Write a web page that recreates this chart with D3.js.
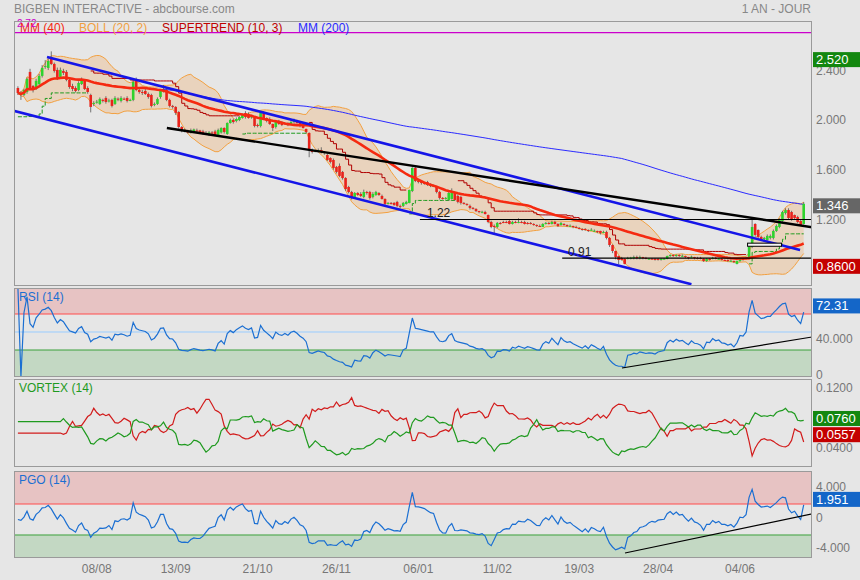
<!DOCTYPE html>
<html><head><meta charset="utf-8">
<script src="https://cdn.jsdelivr.net/npm/d3@7"></script>
<style>
body{margin:0;background:#e6e6e6;}
svg{display:block;font-family:Arial,"Liberation Sans",sans-serif;}
</style>
</head><body>
<svg id="chart" width="860" height="580"></svg>
<script>
// ---------- DATA ----------
const opens=[2.276,2.236,2.220,2.244,2.405,2.292,2.268,2.308,2.373,2.445,
2.437,2.520,2.469,2.421,2.365,2.413,2.405,2.341,2.292,2.276,
2.260,2.308,2.333,2.276,2.220,2.148,2.160,2.148,2.180,2.196,
2.170,2.180,2.148,2.190,2.172,2.190,2.196,2.176,2.180,2.341,
2.260,2.244,2.252,2.228,2.220,2.144,2.148,2.204,2.252,2.260,
2.180,2.132,2.124,2.083,1.963,1.931,1.927,1.919,1.927,1.935,
1.935,1.927,1.911,1.899,1.919,1.927,1.899,1.919,1.955,1.907,
1.995,2.019,2.011,2.019,2.035,2.075,2.067,2.043,2.043,1.979,
1.971,2.075,2.035,2.027,1.987,1.963,2.011,2.003,1.987,1.995,
1.987,2.003,2.011,1.995,1.979,1.947,1.915,1.778,1.770,1.770,
1.778,1.762,1.738,1.714,1.698,1.642,1.650,1.602,1.553,1.481,
1.441,1.401,1.433,1.425,1.401,1.441,1.441,1.401,1.417,1.433,
1.409,1.385,1.353,1.353,1.353,1.361,1.329,1.329,1.345,1.353,
1.449,1.634,1.529,1.521,1.513,1.521,1.497,1.489,1.481,1.441,
1.393,1.385,1.377,1.385,1.433,1.409,1.401,1.353,1.345,1.329,
1.313,1.305,1.288,1.280,1.280,1.256,1.200,1.168,1.160,1.192,
1.200,1.200,1.208,1.184,1.200,1.192,1.200,1.200,1.192,1.192,
1.184,1.176,1.168,1.160,1.184,1.192,1.184,1.200,1.184,1.176,
1.184,1.176,1.168,1.168,1.160,1.152,1.144,1.144,1.136,1.136,
1.128,1.128,1.128,1.112,1.120,1.072,1.015,0.967,0.927,0.911,
0.903,0.903,0.911,0.911,0.919,0.911,0.919,0.911,0.903,0.905,
0.903,0.903,0.895,0.903,0.903,0.927,0.935,0.927,0.935,0.927,
0.927,0.919,0.919,0.919,0.911,0.911,0.903,0.887,0.903,0.903,
0.911,0.903,0.903,0.895,0.895,0.887,0.887,0.863,0.887,0.903,
0.903,0.911,1.000,1.184,1.136,1.080,1.063,1.055,1.072,1.072,
1.128,1.160,1.208,1.272,1.296,1.280,1.256,1.240,1.208,1.184];
const highs=[2.29,2.25,2.27,2.36,2.43,2.30,2.35,2.39,2.46,2.50,
2.51,2.57,2.48,2.44,2.44,2.43,2.42,2.35,2.31,2.29,
2.33,2.36,2.34,2.29,2.23,2.17,2.18,2.20,2.19,2.21,
2.19,2.19,2.21,2.20,2.21,2.20,2.21,2.19,2.34,2.36,
2.27,2.26,2.27,2.24,2.23,2.16,2.20,2.26,2.30,2.27,
2.19,2.14,2.13,2.09,1.97,1.95,1.94,1.95,1.95,1.95,
1.94,1.94,1.93,1.93,1.93,1.94,1.95,1.96,1.96,2.00,
2.03,2.03,2.04,2.05,2.07,2.09,2.08,2.06,2.05,1.99,
2.08,2.09,2.04,2.04,1.99,2.02,2.02,2.01,2.00,2.00,
2.01,2.03,2.02,2.00,1.99,1.95,1.92,1.79,1.78,1.79,
1.80,1.77,1.75,1.72,1.71,1.65,1.67,1.61,1.56,1.49,
1.45,1.44,1.44,1.44,1.46,1.45,1.45,1.44,1.45,1.44,
1.42,1.39,1.36,1.36,1.36,1.37,1.34,1.36,1.37,1.46,
1.64,1.65,1.54,1.53,1.52,1.53,1.51,1.50,1.49,1.45,
1.40,1.40,1.44,1.47,1.44,1.42,1.41,1.36,1.35,1.34,
1.32,1.31,1.29,1.29,1.29,1.26,1.21,1.18,1.20,1.20,
1.21,1.21,1.22,1.21,1.21,1.23,1.21,1.21,1.20,1.20,
1.19,1.18,1.18,1.19,1.20,1.20,1.21,1.21,1.19,1.20,
1.19,1.18,1.18,1.17,1.17,1.16,1.15,1.15,1.14,1.15,
1.14,1.13,1.13,1.13,1.13,1.08,1.02,0.97,0.93,0.92,
0.91,0.92,0.92,0.93,0.93,0.93,0.92,0.92,0.91,0.91,
0.91,0.91,0.91,0.91,0.93,0.94,0.94,0.94,0.94,0.94,
0.93,0.92,0.93,0.92,0.92,0.92,0.91,0.91,0.91,0.92,
0.92,0.91,0.91,0.90,0.90,0.90,0.89,0.89,0.91,0.91,
0.92,1.01,1.23,1.19,1.14,1.09,1.08,1.10,1.10,1.14,
1.18,1.23,1.29,1.31,1.31,1.29,1.26,1.25,1.22,1.36];
const lows=[2.22,2.18,2.21,2.23,2.26,2.24,2.26,2.30,2.36,2.43,
2.42,2.46,2.40,2.34,2.35,2.38,2.33,2.27,2.25,2.24,
2.25,2.30,2.26,2.23,2.08,2.13,2.15,2.14,2.16,2.15,
2.16,2.12,2.14,2.17,2.16,2.18,2.16,2.17,2.17,2.25,
2.23,2.22,2.22,2.19,2.12,2.13,2.14,2.19,2.24,2.17,
2.12,2.11,2.06,1.95,1.92,1.92,1.91,1.91,1.92,1.92,
1.91,1.90,1.90,1.89,1.90,1.89,1.89,1.91,1.91,1.90,
1.99,1.99,2.00,2.01,2.03,2.03,2.03,2.03,1.96,1.96,
1.96,2.03,2.00,1.98,1.93,1.95,1.98,1.97,1.98,1.97,
1.98,1.99,1.99,1.96,1.95,1.91,1.72,1.75,1.76,1.76,
1.75,1.74,1.69,1.67,1.62,1.59,1.56,1.54,1.45,1.43,
1.38,1.39,1.41,1.40,1.39,1.42,1.38,1.39,1.41,1.41,
1.38,1.33,1.34,1.34,1.33,1.32,1.31,1.32,1.34,1.35,
1.44,1.52,1.51,1.50,1.50,1.49,1.48,1.48,1.43,1.38,
1.38,1.38,1.37,1.38,1.37,1.35,1.34,1.34,1.33,1.30,
1.30,1.28,1.27,1.27,1.26,1.19,1.15,1.11,1.15,1.18,
1.19,1.19,1.18,1.18,1.19,1.19,1.19,1.18,1.18,1.18,
1.17,1.16,1.16,1.16,1.18,1.18,1.18,1.18,1.16,1.17,
1.17,1.16,1.16,1.15,1.15,1.14,1.13,1.13,1.12,1.13,
1.12,1.11,1.10,1.11,1.06,1.00,0.95,0.90,0.86,0.89,
0.86,0.90,0.90,0.90,0.90,0.90,0.90,0.90,0.90,0.90,
0.89,0.89,0.89,0.90,0.90,0.92,0.92,0.92,0.92,0.92,
0.91,0.90,0.91,0.90,0.90,0.90,0.88,0.88,0.89,0.90,
0.90,0.90,0.89,0.89,0.88,0.88,0.87,0.86,0.88,0.89,
0.90,0.90,0.99,1.08,1.07,1.05,1.05,1.05,1.06,1.06,
1.12,1.15,1.20,1.26,1.22,1.21,1.22,1.19,1.17,1.18];
const closes=[2.236,2.220,2.260,2.349,2.276,2.260,2.333,2.373,2.437,2.453,
2.493,2.469,2.413,2.357,2.421,2.397,2.341,2.284,2.268,2.252,
2.316,2.341,2.268,2.244,2.124,2.156,2.166,2.188,2.176,2.164,
2.176,2.132,2.196,2.186,2.196,2.188,2.172,2.180,2.324,2.260,
2.244,2.236,2.228,2.204,2.132,2.148,2.188,2.252,2.256,2.180,
2.132,2.128,2.076,1.963,1.939,1.935,1.923,1.935,1.943,1.931,
1.919,1.911,1.915,1.919,1.911,1.899,1.939,1.955,1.923,1.995,
2.019,2.003,2.027,2.043,2.059,2.043,2.035,2.047,1.971,1.975,
2.075,2.035,2.011,1.987,1.955,2.011,1.987,1.979,1.995,1.979,
2.003,2.011,1.995,1.971,1.955,1.923,1.778,1.762,1.770,1.778,
1.762,1.754,1.698,1.682,1.634,1.602,1.570,1.553,1.465,1.441,
1.393,1.433,1.417,1.409,1.441,1.433,1.393,1.425,1.441,1.417,
1.385,1.345,1.353,1.345,1.337,1.329,1.321,1.353,1.361,1.457,
1.634,1.529,1.521,1.513,1.505,1.497,1.489,1.491,1.441,1.393,
1.385,1.393,1.433,1.449,1.377,1.361,1.353,1.345,1.337,1.313,
1.305,1.288,1.280,1.282,1.264,1.200,1.160,1.166,1.192,1.190,
1.198,1.196,1.184,1.200,1.192,1.200,1.192,1.184,1.190,1.184,
1.176,1.168,1.166,1.184,1.192,1.184,1.200,1.184,1.168,1.192,
1.176,1.168,1.170,1.160,1.152,1.144,1.136,1.142,1.128,1.138,
1.130,1.120,1.112,1.120,1.072,1.015,0.967,0.919,0.895,0.895,
0.863,0.911,0.913,0.919,0.911,0.919,0.911,0.903,0.905,0.903,
0.895,0.901,0.903,0.905,0.927,0.935,0.927,0.935,0.927,0.929,
0.919,0.911,0.921,0.911,0.909,0.903,0.887,0.903,0.901,0.911,
0.903,0.905,0.895,0.893,0.887,0.889,0.879,0.887,0.903,0.901,
0.911,1.000,1.160,1.096,1.080,1.063,1.072,1.088,1.088,1.128,
1.168,1.224,1.280,1.296,1.232,1.216,1.232,1.200,1.176,1.346];

const tickLabels=["08/08","13/09","21/10","26/11","06/01","11/02","19/03","28/04","04/06"];
const tickIndex=[26,52,79,105,132,158,185,211,238];
const priceTicks=[1.2,1.6,2.0,2.4];
const rsiTicks=[0,40];
const vortexTicks=[0.04,0.12];
const pgoTicks=[-4,0,4];
const rsiLevels=[30,50,70];
const pgoLevels=[-2,2];
const resistance=2.72;
// drawn annotations, in (candle index, value)
const channelUpper=[[9.6,2.525],[257.8,0.975]];
const channelLower=[[-2,2.097],[222,0.70]];
const blackTrend=[[49.1,1.955],[262,1.157]];
const levelLines=[{v:1.22,from:132.5,to:262,label:"1.22",at:134.8},{v:0.91,from:179.4,to:262,label:"0.91",at:181.3}];
const boxZone=[[240.5,1.03],[251.7,1.005]];
const rsiTrend=[[199.1,10],[262,44.6]];
const pgoTrend=[[200.1,-4.32],[262,0.74]];
const priceMarks=[{v:2.52,t:"2.520",c:"#13870f"},{v:1.346,t:"1.346",c:"#666666"},{v:0.86,t:"0.8600",c:"#c40000"}];
const rsiMark={v:72.31,t:"72.31"};
const vortexMarks=[{v:0.0760,t:"0.0760",c:"#13870f"},{v:0.0557,t:"0.0557",c:"#c40000"}];
const pgoMark={v:1.951,t:"1.951"};

// ---------- INDICATORS ----------
const N=closes.length;
const idx=d3.range(N);
const win=(arr,i,n)=>arr.slice(Math.max(0,i-n+1),i+1);
const mm40=idx.map(i=>d3.mean(win(closes,i,40)));
const mm200=idx.map(i=>d3.mean(win(closes,i,200)));
const boll=idx.map(i=>{const w=win(closes,i,20);const m=d3.mean(w);const sd=Math.sqrt(d3.mean(w,v=>(v-m)*(v-m)));return {i,up:m+2*sd,lo:m-2*sd};});
const tr=idx.map(i=>i===0?highs[0]-lows[0]:Math.max(highs[i]-lows[i],Math.abs(highs[i]-closes[i-1]),Math.abs(lows[i]-closes[i-1])));
// RSI 14 (Wilder)
const rsi=[];{let ag=0,al=0;idx.forEach(i=>{if(i===0){rsi.push(100);return;}const ch=closes[i]-closes[i-1];const g=Math.max(ch,0),l=Math.max(-ch,0);if(i<=14){ag=(ag*(i-1)+g)/i;al=(al*(i-1)+l)/i;}else{ag=(ag*13+g)/14;al=(al*13+l)/14;}rsi.push(al===0?100:100-100/(1+ag/al));});}
// Vortex 14 (needs a full 14-period window; held flat before it)
const VN=14;
const vip=[],vim=[];idx.forEach(i=>{if(i<VN){vip.push(null);vim.push(null);return;}let sp=0,sm=0,st=0;for(let k=i-VN+1;k<=i;k++){sp+=Math.abs(highs[k]-lows[k-1]);sm+=Math.abs(lows[k]-highs[k-1]);st+=tr[k];}vip.push(sp/st/VN);vim.push(sm/st/VN);});
for(let i=0;i<VN;i++){vip[i]=vip[VN];vim[i]=vim[VN];}
// PGO 14
const pgo=[];{let e=tr[0];idx.forEach(i=>{if(i>0)e=e+(2/15)*(tr[i]-e);pgo.push((closes[i]-d3.mean(win(closes,i,14)))/e);});}
// Supertrend 10,3
const st=[];{let atr=0,fu=0,fl=0,up=true;idx.forEach(i=>{atr=i<10?d3.mean(tr.slice(0,i+1)):(atr*9+tr[i])/10;const hl=(highs[i]+lows[i])/2;const bu=hl+3*atr,bl=hl-3*atr;if(i===0){fu=bu;fl=bl;}else{fu=(bu<fu||closes[i-1]>fu)?bu:fu;fl=(bl>fl||closes[i-1]<fl)?bl:fl;}if(up&&closes[i]<fl)up=false;else if(!up&&closes[i]>fu)up=true;st.push({i,v:up?fl:fu,up});});}

// ---------- SCALES ----------
const svg=d3.select("#chart");
const L=14.5,R=811.5;
const x=d3.scaleLinear().domain([0,N-1]).range([17.9,803.7]);
const P={top:21.5,bot:285.5}, RS={top:288.5,bot:376.5}, VX={top:379.5,bot:466.5}, PG={top:471.5,bot:557.5};
const yP=d3.scaleLinear().domain([0.694,2.814]).range([285,21]);
const yR=d3.scaleLinear().domain([0,100]).range([377,287]);
const yV=d3.scaleLinear().domain([0.0193,0.1353]).range([466,379]);
const yG=d3.scaleLinear().domain([-4.84,6.26]).range([557,471]);

const defs=svg.append("defs");
[["cpP",P],["cpR",RS],["cpV",VX],["cpG",PG]].forEach(([id,p])=>{defs.append("clipPath").attr("id",id).append("rect").attr("x",L).attr("y",p.top).attr("width",R-L).attr("height",p.bot-p.top);});

// header
svg.append("text").attr("x",14).attr("y",12.5).attr("font-size",12).attr("fill","#888").text("BIGBEN INTERACTIVE - abcbourse.com");
svg.append("text").attr("x",811).attr("y",12.5).attr("font-size",12).attr("fill","#888").attr("text-anchor","end").text("1 AN - JOUR");

function frame(p){svg.append("rect").attr("x",L).attr("y",p.top).attr("width",R-L).attr("height",p.bot-p.top).attr("fill","none").attr("stroke","#9a9a9a");}

// ---------- MAIN PANEL ----------
const gP=svg.append("g").attr("clip-path","url(#cpP)");
gP.append("path").datum(boll).attr("fill","rgba(242,168,96,0.30)").attr("d",d3.area().x(d=>x(d.i)).y0(d=>yP(d.lo)).y1(d=>yP(d.up)));
const lineOf=(ys,yS)=>d3.line().defined(i=>ys[i]!=null).x(i=>x(i)).y(i=>yS(ys[i]));
gP.append("path").datum(idx).attr("fill","none").attr("stroke","#f2a040").attr("stroke-width",1).attr("d",lineOf(boll.map(d=>d.up),yP));
gP.append("path").datum(idx).attr("fill","none").attr("stroke","#f2a040").attr("stroke-width",1).attr("d",lineOf(boll.map(d=>d.lo),yP));
let runs=[];st.forEach(d=>{const r=runs[runs.length-1];if(!r||r.up!==d.up)runs.push({up:d.up,pts:[d]});else r.pts.push(d);});
runs.forEach(r=>{gP.append("path").datum(r.pts).attr("fill","none").attr("stroke",r.up?"#1f9a1f":"#b00000").attr("stroke-width",1).attr("stroke-dasharray",r.up?"4,1.5":null).attr("d",d3.line().curve(d3.curveStepAfter).x(d=>x(d.i)).y(d=>yP(d.v)));});
gP.append("path").datum(idx).attr("fill","none").attr("stroke","#2a2aff").attr("stroke-width",1).attr("d",lineOf(mm200,yP));
gP.append("line").attr("x1",L).attr("x2",R).attr("y1",yP(resistance)).attr("y2",yP(resistance)).attr("stroke","#cc00cc").attr("stroke-width",1.2);
const cg=gP.append("g");
idx.forEach(i=>{const o=opens[i],c=closes[i];const xc=x(i);
 cg.append("line").attr("x1",xc).attr("x2",xc).attr("y1",yP(highs[i])).attr("y2",yP(lows[i])).attr("stroke","#555").attr("stroke-width",0.8);
 const t=yP(Math.max(o,c)),b=yP(Math.min(o,c));
 cg.append("rect").attr("x",xc-1.3).attr("width",2.6).attr("y",t).attr("height",Math.max(1,b-t)).attr("fill",c>=o?"#2ed22e":"#e8231c");});
gP.append("path").datum(idx).attr("fill","none").attr("stroke","#f52a10").attr("stroke-width",2.6).attr("d",lineOf(mm40,yP));
const seg=(g,pts,yS,col,w)=>g.append("line").attr("x1",x(pts[0][0])).attr("y1",yS(pts[0][1])).attr("x2",x(pts[1][0])).attr("y2",yS(pts[1][1])).attr("stroke",col).attr("stroke-width",w);
seg(gP,channelUpper,yP,"#1515e8",2.6);
seg(gP,channelLower,yP,"#1515e8",2.6);
seg(gP,blackTrend,yP,"#000",2.4);
levelLines.forEach(l=>{gP.append("line").attr("x1",x(l.from)).attr("x2",x(l.to)).attr("y1",yP(l.v)).attr("y2",yP(l.v)).attr("stroke","#000").attr("stroke-width",1.2);
 gP.append("text").attr("x",x(l.at)).attr("y",yP(l.v)-2.5).attr("font-size",12).attr("fill","#222").text(l.label);});
gP.append("rect").attr("x",x(boxZone[0][0])).attr("y",yP(boxZone[0][1])).attr("width",x(boxZone[1][0])-x(boxZone[0][0])).attr("height",yP(boxZone[1][1])-yP(boxZone[0][1])).attr("fill","#f4f4f4").attr("stroke","#000").attr("stroke-width",1);
const leg=[["MM (40)","#f52a10",20],["BOLL (20, 2)","#f2a040",79],["SUPERTREND (10, 3)","#c00000",162],["MM (200)","#2a2aff",298]];
leg.forEach(([t,c,xx])=>svg.append("text").attr("x",xx).attr("y",32).attr("font-size",12).attr("fill",c).text(t));
svg.append("text").attr("x",17).attr("y",27).attr("font-size",10).attr("fill","#cc00cc").text(resistance.toFixed(2));
frame(P);

// ---------- RSI ----------
const gR=svg.append("g").attr("clip-path","url(#cpR)");
gR.append("rect").attr("x",L).attr("width",R-L).attr("y",RS.top).attr("height",yR(70)-RS.top).attr("fill","#e7c3c3");
gR.append("rect").attr("x",L).attr("width",R-L).attr("y",yR(30)).attr("height",RS.bot-yR(30)).attr("fill","#c3d8c3");
const lvlCol={30:"#3aa03a",50:"#99ccff",70:"#ff4b4b"};
rsiLevels.forEach(v=>gR.append("line").attr("x1",L).attr("x2",R).attr("y1",yR(v)).attr("y2",yR(v)).attr("stroke",lvlCol[v]).attr("stroke-width",1));
gR.append("path").datum(idx).attr("fill","none").attr("stroke","#1b6fd2").attr("stroke-width",1.2).attr("d",lineOf(rsi,yR));
seg(gR,rsiTrend,yR,"#000",1.2);
frame(RS);
svg.append("text").attr("x",19).attr("y",301).attr("font-size",12).attr("fill","#1b6fd2").text("RSI (14)");

// ---------- VORTEX ----------
const gV=svg.append("g").attr("clip-path","url(#cpV)");
gV.append("path").datum(idx).attr("fill","none").attr("stroke","#d21c1c").attr("stroke-width",1.2).attr("d",lineOf(vim,yV));
gV.append("path").datum(idx).attr("fill","none").attr("stroke","#1f9a1f").attr("stroke-width",1.2).attr("d",lineOf(vip,yV));
frame(VX);
svg.append("text").attr("x",19).attr("y",392).attr("font-size",12).attr("fill","#1f9a1f").text("VORTEX (14)");

// ---------- PGO ----------
const gG=svg.append("g").attr("clip-path","url(#cpG)");
gG.append("rect").attr("x",L).attr("width",R-L).attr("y",PG.top).attr("height",yG(pgoLevels[1])-PG.top).attr("fill","#e7c3c3");
gG.append("rect").attr("x",L).attr("width",R-L).attr("y",yG(pgoLevels[0])).attr("height",PG.bot-yG(pgoLevels[0])).attr("fill","#c3d8c3");
gG.append("line").attr("x1",L).attr("x2",R).attr("y1",yG(pgoLevels[1])).attr("y2",yG(pgoLevels[1])).attr("stroke","#ff4b4b");
gG.append("line").attr("x1",L).attr("x2",R).attr("y1",yG(pgoLevels[0])).attr("y2",yG(pgoLevels[0])).attr("stroke","#3aa03a");
gG.append("path").datum(idx).attr("fill","none").attr("stroke","#1b6fd2").attr("stroke-width",1.2).attr("d",lineOf(pgo,yG));
seg(gG,pgoTrend,yG,"#000",1.2);
frame(PG);
svg.append("text").attr("x",19).attr("y",484).attr("font-size",12).attr("fill","#1b6fd2").text("PGO (14)");

// ---------- AXES (right) ----------
function axisLabels(ticks,yS,fmt,dy){ticks.forEach(v=>svg.append("text").attr("x",816).attr("y",yS(v)+dy).attr("font-size",12).attr("fill","#777").text(fmt(v)));}
axisLabels(priceTicks,yP,d3.format(".3f"),2);
axisLabels(rsiTicks,yR,v=>v===0?"0":d3.format(".3f")(v),2);
axisLabels(vortexTicks,yV,d3.format(".4f"),2);
axisLabels(pgoTicks,yG,v=>v===0?"0":d3.format(".3f")(v).replace("−","-"),2);
function markBox(y,t,c){svg.append("rect").attr("x",813).attr("y",y-7.5).attr("width",47).attr("height",15).attr("fill",c);
 svg.append("text").attr("x",816).attr("y",y+4.5).attr("font-size",13).attr("fill","#fff").text(t);}
priceMarks.forEach(m=>markBox(yP(m.v)+2,m.t,m.c));
markBox(yR(rsiMark.v)-6,rsiMark.t,"#1466c8");
vortexMarks.forEach((m,k)=>markBox(yV(m.v)+(k===0?-5:-4),m.t,m.c));
markBox(yG(pgoMark.v)-5,pgoMark.t,"#1466c8");

// ---------- X AXIS ----------
tickIndex.forEach((ti,k)=>svg.append("text").attr("x",x(ti)).attr("y",573).attr("font-size",12).attr("fill","#777").attr("text-anchor","middle").text(tickLabels[k]));
</script>
</body></html>
